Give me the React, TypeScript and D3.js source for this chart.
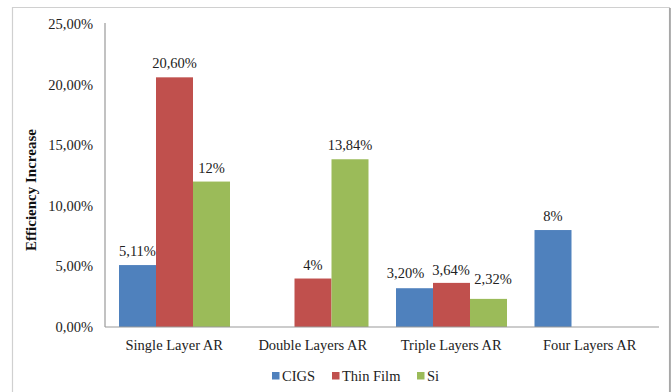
import React from "react";
import * as d3 from "d3";

const categories = ["Single Layer AR", "Double Layers AR", "Triple Layers AR", "Four Layers AR"];
const seriesNames = ["CIGS", "Thin Film", "Si"];
const cigs: (number | null)[] = [5.11, null, 3.2, 8];
const thinFilm: (number | null)[] = [20.6, 4, 3.64, null];
const si: (number | null)[] = [12, 13.84, 2.32, null];
const cigsLabels = ["5,11%", "", "3,20%", "8%"];
const thinLabels = ["20,60%", "4%", "3,64%", ""];
const siLabels = ["12%", "13,84%", "2,32%", ""];
const yTicks = [0, 5, 10, 15, 20, 25];
const yTickLabels = ["0,00%", "5,00%", "10,00%", "15,00%", "20,00%", "25,00%"];
const colors = ["#4F81BD", "#C0504D", "#9BBB59"];
// label nudges (dx, dy) in px, per series per category, to mimic collision avoidance
const nudgeX = [[0, 0, -9, 0], [0, 0, -0.5, 0], [0, 0, 4.5, 0]];
const nudgeY = [[0, 0, -1.5, 0], [0, 0, 1, 0], [0, 0, -6, 0]];

export default function App() {
  const W = 672, H = 392;
  const left = 105, right = 659, top = 24, bottom = 327;
  const x = d3.scaleBand<string>().domain(categories).range([left, right]).paddingInner(0).paddingOuter(0);
  const inner = d3.scaleBand<string>().domain(seriesNames).range([14, x.bandwidth() - 13.5]).padding(0);
  const y = d3.scaleLinear().domain([0, 25]).range([bottom, top]);
  const series = [cigs, thinFilm, si];
  const labels = [cigsLabels, thinLabels, siLabels];
  const fs = { fontFamily: "Liberation Serif" };
  const legendX = [272, 332, 417];
  return (
    <svg width={W} height={H} style={{ position: "absolute", left: 0, top: 0, background: "#fff" }}>
      <rect x={0} y={0} width={W} height={H} fill="#fff" />
      <path d={`M12.5,${H + 5} V7.5 H669.5 V${H + 5}`} fill="none" stroke="#d0d0d0" strokeWidth={1.2} />
      <line x1={670} x2={670} y1={8} y2={H} stroke="#9a9a9a" strokeWidth={1.5} />
      {yTicks.map((t, i) => (
        <text key={t} x={93} y={y(t)} dy="0.35em" textAnchor="end" fontSize={14.5} fill="#222" style={fs}>
          {yTickLabels[i]}
        </text>
      ))}
      <text transform={`translate(31,190) rotate(-90)`} textAnchor="middle" dy="0.35em" fontSize={15} fontWeight="bold" fill="#111" style={fs}>
        Efficiency Increase
      </text>
      {series.map((vals, si_) =>
        vals.map((v, ci) =>
          v == null ? null : (
            <rect key={`${si_}-${ci}`} x={(x(categories[ci]) as number) + (inner(seriesNames[si_]) as number)} y={y(v)} width={inner.bandwidth()} height={y(0) - y(v)} fill={colors[si_]} />
          )
        )
      )}
      {series.map((vals, si_) =>
        vals.map((v, ci) =>
          v == null ? null : (
            <text key={`l${si_}-${ci}`} x={(x(categories[ci]) as number) + (inner(seriesNames[si_]) as number) + inner.bandwidth() / 2 + nudgeX[si_][ci]} y={y(v) - 14 + nudgeY[si_][ci]} dy="0.35em" textAnchor="middle" fontSize={14.5} fill="#222" style={fs}>
              {labels[si_][ci]}
            </text>
          )
        )
      )}
      <line x1={left} x2={left} y1={top - 1} y2={bottom} stroke="#999" strokeWidth={1.2} />
      <line x1={left} x2={right} y1={bottom} y2={bottom} stroke="#999" strokeWidth={1.2} />
      {categories.map((c) => (
        <text key={c} x={(x(c) as number) + x.bandwidth() / 2} y={350} textAnchor="middle" fontSize={14.5} fill="#222" style={fs}>
          {c}
        </text>
      ))}
      {seriesNames.map((s, i) => (
        <g key={s}>
          <rect x={legendX[i]} y={372} width={7.5} height={7.5} fill={colors[i]} />
          <text x={legendX[i] + 10} y={376} dy="0.35em" fontSize={14.5} fill="#222" style={fs}>{s}</text>
        </g>
      ))}
    </svg>
  );
}
